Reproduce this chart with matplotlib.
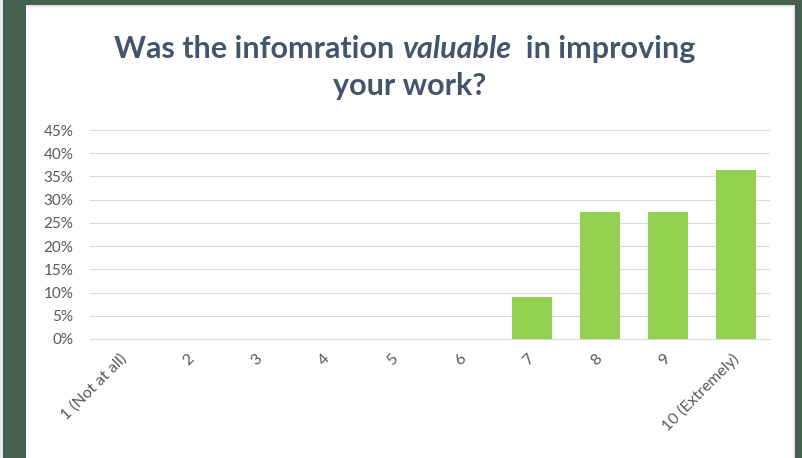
import matplotlib
matplotlib.use("Agg")
import matplotlib.pyplot as plt
from matplotlib.patches import Rectangle
from matplotlib.ticker import FuncFormatter, MultipleLocator
import matplotlib.transforms as mtransforms

categories = ["1 (Not at all)", "2", "3", "4", "5", "6", "7", "8", "9", "10 (Extremely)"]
values = [0, 0, 0, 0, 0, 0, 1/11, 3/11, 3/11, 4/11]

W, H = 803, 458
fig = plt.figure(figsize=(W/100, H/100), dpi=100)
fig.patch.set_facecolor("white")
plt.rcParams['font.family'] = ['Lato', 'DejaVu Sans']

def px(x0, y0, w, h, color):
    fig.patches.append(Rectangle((x0/W, 1-(y0+h)/H), w/W, h/H, transform=fig.transFigure,
                                 facecolor=color, edgecolor='none', zorder=0))

green = "#46604F"
px(0, 0, 3, H, "#E6EAEC")
px(3, 0, 23, H, green)
px(3, 0, W-3, 5, green)
px(795, 0, 8, H, green)
px(26, 5, 769, 1.5, "#E3E7EA")
px(793, 5, 2, H, "#E3E7EA")

ax = fig.add_axes([90/W, 1-339/H, 680/W, (339-130)/H])
ax.set_facecolor("none")
x = list(range(len(categories)))
ax.bar(x, values, width=0.59, color="#92D050", zorder=3)
ax.set_xlim(-0.5, len(categories)-0.5)
ax.set_ylim(0, 0.45)
ax.yaxis.set_major_locator(MultipleLocator(0.05))
ax.yaxis.set_major_formatter(FuncFormatter(lambda v, p: f"{round(v*100)}%"))
ax.grid(axis='y', color="#D9D9D9", linewidth=0.8, zorder=0)
for s in ["top", "right", "left"]:
    ax.spines[s].set_visible(False)
ax.spines["bottom"].set_color("#D9D9D9")
ax.spines["bottom"].set_linewidth(0.8)
ax.tick_params(axis='y', length=0, labelcolor="#595959", labelsize=11, pad=12)
ax.tick_params(axis='x', length=0, labelcolor="#595959", labelsize=11.5, pad=9)
ax.set_xticks(x)
ax.set_xticklabels(categories, rotation=45, ha='right', va='top', rotation_mode='anchor')
off = mtransforms.ScaledTranslation(-5/100, 0, fig.dpi_scale_trans)
for lab in ax.get_xticklabels():
    lab.set_transform(lab.get_transform() + off)

# Title with mixed styles
title_color = "#44546A"
fs = 22
parts = [("Was the infomration ", "normal"), ("valuable", "italic"), ("  in improving", "normal")]
fig.canvas.draw()
renderer = fig.canvas.get_renderer()
texts = []
for s, st in parts:
    t = fig.text(0, 1-58/H, s, fontsize=fs, fontweight='bold', style=st, color=title_color,
                 ha='left', va='baseline')
    texts.append(t)
widths = [t.get_window_extent(renderer).width for t in texts]
total = sum(widths)
xstart = 405 - total/2
for t, w in zip(texts, widths):
    t.set_x(xstart/W)
    xstart += w
fig.text(410/W, 1-95/H, "your work?", fontsize=fs, fontweight='bold', color=title_color,
         ha='center', va='baseline')

fig.savefig("out.png", dpi=100)
